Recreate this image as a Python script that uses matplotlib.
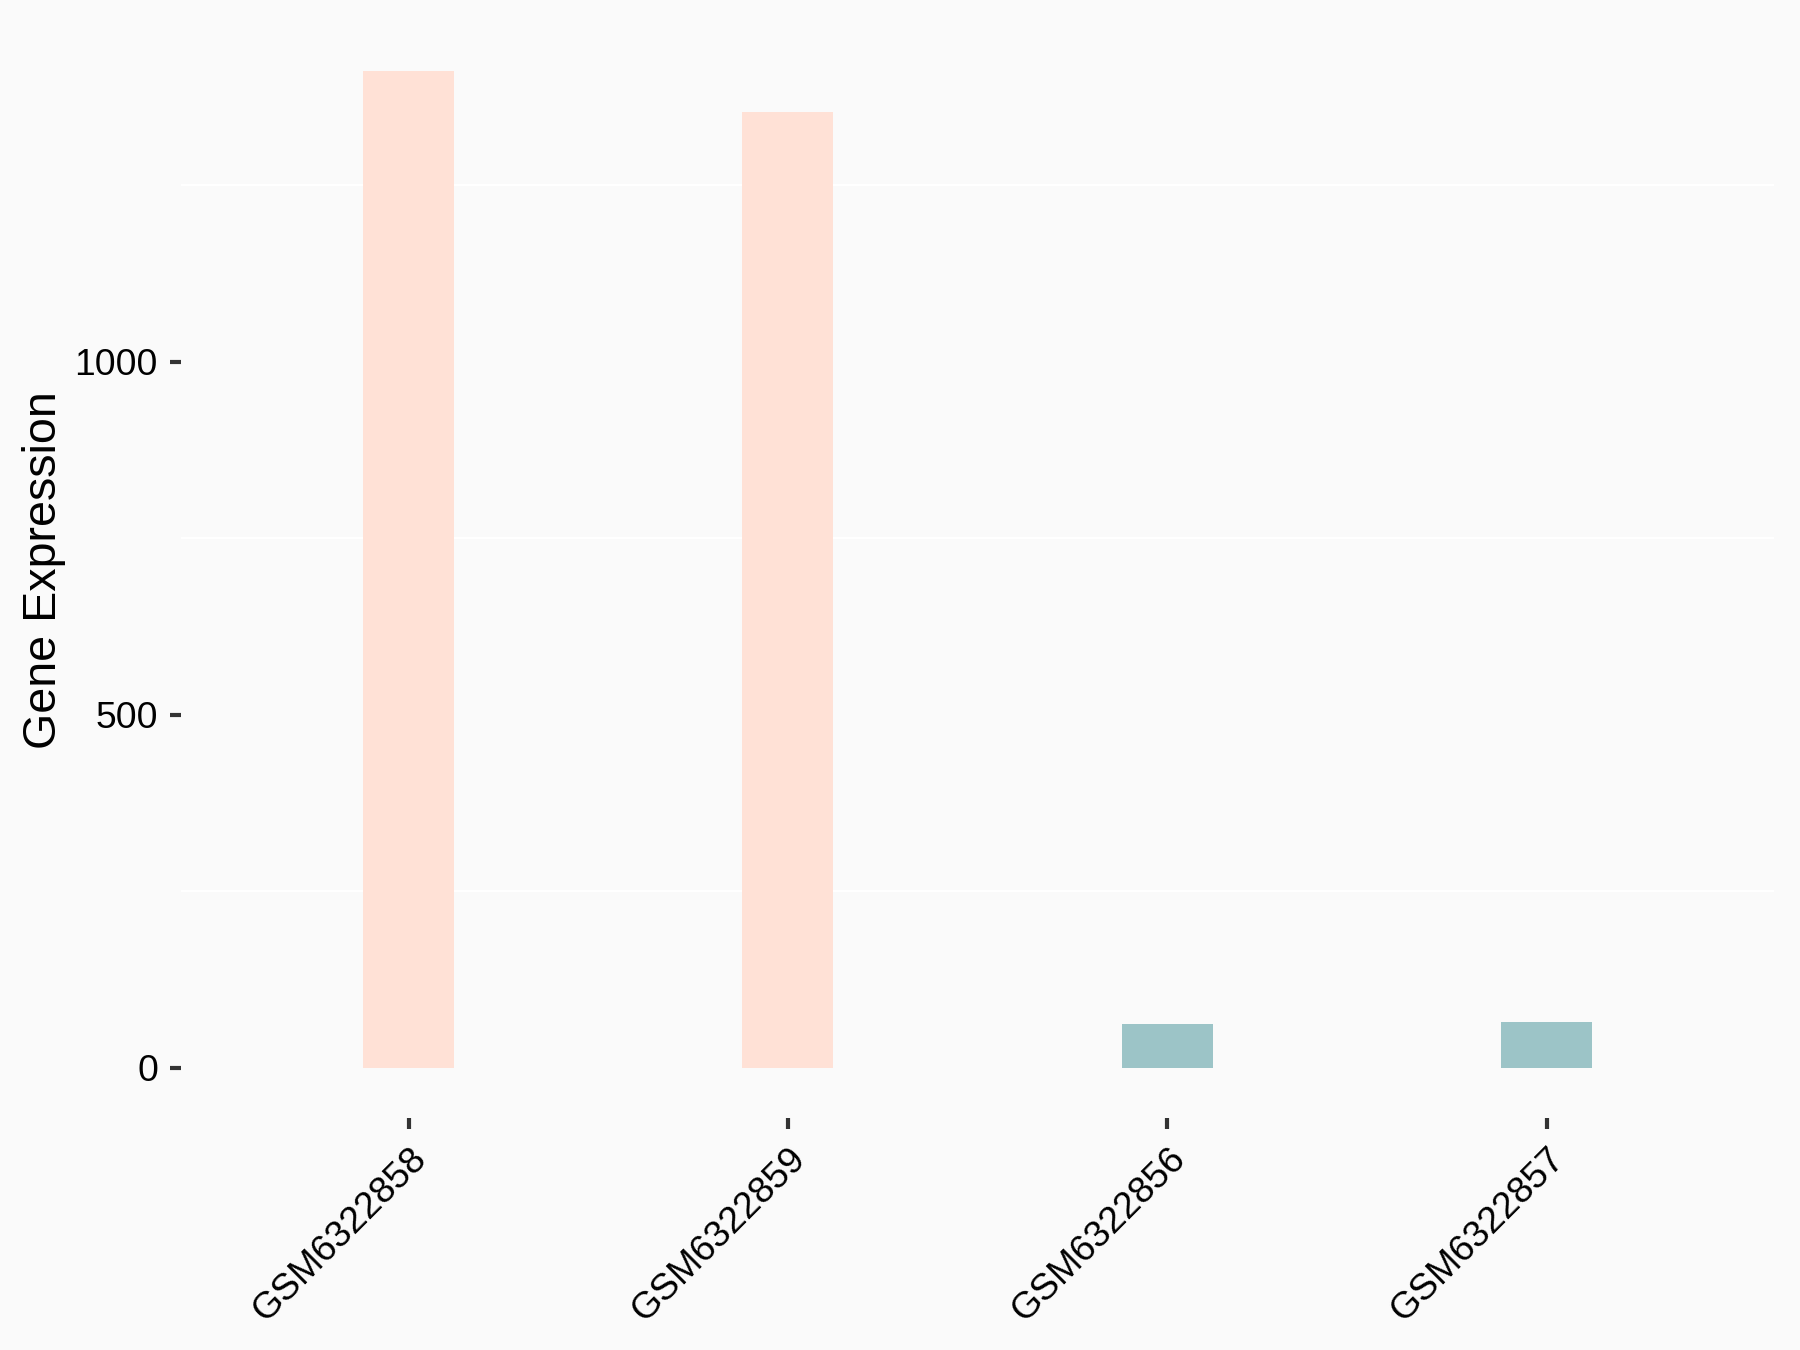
import numpy as np
import matplotlib
matplotlib.use('Agg')
import matplotlib.pyplot as plt

plt.rcParams['font.family'] = ['Liberation Sans', 'DejaVu Sans']

samples = ['GSM6322858', 'GSM6322859', 'GSM6322856', 'GSM6322857']
values = [1411, 1353, 62, 65]
colors = ['#FFE1D6', '#FFE1D6', '#9CC4C7', '#9CC4C7']

bg = '#FAFAFA'
fig = plt.figure(figsize=(6, 4.5), dpi=300, facecolor=bg)
ax = fig.add_axes([0.1006, 0.172, 0.885, 0.812], facecolor=bg)

x = np.arange(1, len(samples) + 1)
ax.bar(x, values, width=0.24, color=colors, zorder=2)

# ggplot-like expansion
vmax = max(values)
ax.set_ylim(-0.05 * vmax, vmax * 1.05)
ax.set_xlim(0.4, len(samples) + 0.6)

ax.set_yticks([0, 500, 1000])
ax.set_yticks([250, 750, 1250], minor=True)
ax.grid(False)
ax.grid(which='minor', axis='y', color='white', linewidth=0.5, zorder=0)
ax.tick_params(axis='y', which='minor', length=0)

ax.set_xticks(x)
ax.set_xticklabels(samples, rotation=45, ha='right', va='top',
                   rotation_mode='anchor', fontsize=8.96, color='black')
ax.tick_params(axis='both', which='major', length=2.75, width=1.0,
               color='#333333', labelsize=8.96, labelcolor='black', pad=2.8)

for s in ax.spines.values():
    s.set_visible(False)

ax.set_ylabel('Gene Expression', fontsize=11.2)
ax.yaxis.set_label_coords(-0.072, 0.5)

fig.savefig('out.png', dpi=300, facecolor=bg)
